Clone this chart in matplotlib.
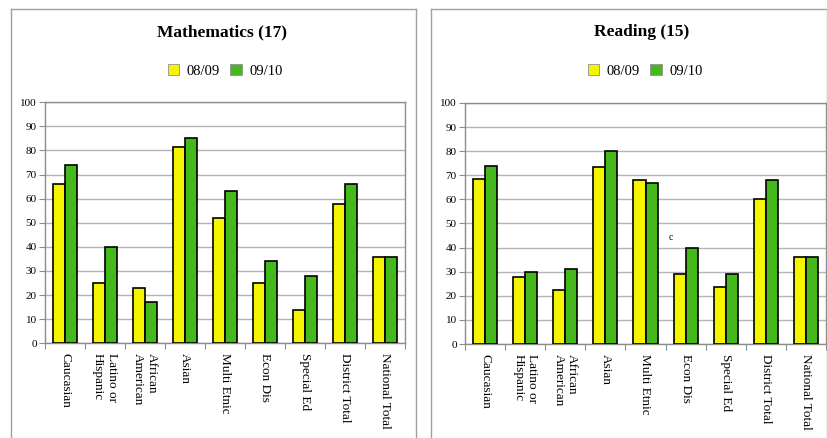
import numpy as np
import matplotlib.pyplot as plt
from matplotlib.lines import Line2D
from matplotlib.patches import Patch

plt.rcParams['font.family'] = ['Liberation Serif', 'DejaVu Serif']

categories = ["Caucasian", "Latino or\nHispanic", "African\nAmerican", "Asian",
              "Multi Etnic", "Econ Dis", "Special Ed", "District Total",
              "National Total"]
series_labels = ["08/09", "09/10"]

math_0809 = [66, 25, 23, 81.5, 52, 25, 14, 58, 36]
math_0910 = [74, 40, 17, 85, 63, 34, 28, 66, 36]
read_0809 = [68.5, 28, 22.5, 73.5, 68, 29, 23.5, 60, 36]
read_0910 = [74, 30, 31, 80, 67, 40, 29, 68, 36]

YELLOW = "#F5F500"
GREEN = "#45B91B"
GRID = "#b4b4b4"
FRAME = "#8c8c8c"

W, H = 827, 438
fig = plt.figure(figsize=(W / 100, H / 100), dpi=100)


def px_rect(x0, y_top, x1, y_bot):
    return [x0 / W, 1 - y_bot / H, (x1 - x0) / W, (y_bot - y_top) / H]


def panel_border(x0, x1):
    kw = dict(color="#a0a0a0", lw=1.0, transform=fig.transFigure)
    y_top = 1 - 8.5 / H
    fig.add_artist(Line2D([x0 / W, x1 / W], [y_top, y_top], **kw))
    fig.add_artist(Line2D([x0 / W, x0 / W], [y_top, -0.1], **kw))
    fig.add_artist(Line2D([x1 / W, x1 / W], [y_top, -0.1], **kw))


def draw_chart(rect, title, v1, v2, title_x):
    ax = fig.add_axes(rect)
    x = np.arange(len(categories))
    w = 0.3
    ax.bar(x - w / 2, v1, w, color=YELLOW, edgecolor="black", lw=1.2, zorder=3)
    ax.bar(x + w / 2, v2, w, color=GREEN, edgecolor="black", lw=1.2, zorder=3)

    ax.set_xlim(-0.5, len(categories) - 0.5)
    ax.set_ylim(0, 100)
    ax.set_yticks(range(0, 101, 10))
    ax.yaxis.grid(True, color=GRID, lw=1.0, zorder=0)
    for s in ax.spines.values():
        s.set_color(FRAME)
        s.set_linewidth(1.0)

    # major ticks sit between the groups, labels go on the minor ticks
    ax.set_xticks(np.arange(-0.5, len(categories), 1.0))
    ax.set_xticklabels([])
    ax.set_xticks(x, minor=True)
    ax.set_xticklabels(categories, minor=True, rotation=270, fontsize=9.5,
                       va="top", ha="center", multialignment="left")
    ax.tick_params(axis="x", which="major", length=4, color=FRAME, direction="out")
    ax.tick_params(axis="x", which="minor", length=0, pad=7)
    ax.tick_params(axis="y", length=4, color=FRAME, labelsize=8, pad=2)

    fig.text(title_x / W, 1 - 32 / H, title, fontsize=12.5, fontweight="bold",
             ha="center", va="center")
    handles = [Patch(facecolor=YELLOW, edgecolor="#909090", lw=0.6),
               Patch(facecolor=GREEN, edgecolor="#909090", lw=0.6)]
    fig.legend(handles, series_labels, loc="center",
               bbox_to_anchor=(title_x / W + 3 / W, 1 - 71 / H), ncol=2,
               frameon=False, fontsize=10.5, handlelength=0.8, handleheight=0.8,
               handletextpad=0.5, columnspacing=0.7)
    return ax


panel_border(10.5, 415.5)
panel_border(430.5, 826.5)

draw_chart(px_rect(45, 102.3, 405, 343.3), "Mathematics (17)",
           math_0809, math_0910, 222)
ax_r = draw_chart(px_rect(465, 103, 826, 344), "Reading (15)",
                  read_0809, read_0910, 642)
ax_r.text(5 - 0.38, 44, "c", fontsize=7, ha="center", va="center")

fig.savefig("out.png", dpi=100)
